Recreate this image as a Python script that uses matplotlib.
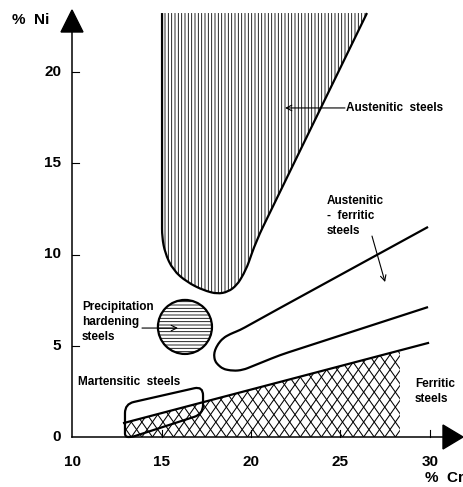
import matplotlib
matplotlib.use("Agg")
import matplotlib.pyplot as plt
import numpy as np
from matplotlib.patches import Polygon, Ellipse, PathPatch
from matplotlib.path import Path
from matplotlib.collections import LineCollection

plt.rcParams["font.family"] = ["Liberation Sans", "DejaVu Sans"]
plt.rcParams["hatch.linewidth"] = 0.6

# axis ticks (% Cr, % Ni)
CR_TICKS = [10, 15, 20, 25, 30]
NI_TICKS = [0, 5, 10, 15, 20]

# austenitic field (open at the top)
AUST_CR = [15.03, 15.03, 15.20, 15.64, 16.42, 17.32, 18.10, 18.72, 19.22, 19.72, 20.31, 26.48]
AUST_NI = [23.23, 10.96, 10.08, 9.15, 8.49, 8.05, 7.84, 7.95, 8.33, 9.15, 10.79, 23.23]

# austenitic-ferritic (duplex) U-shaped band
DUPLEX_CR = [29.89, 21.62, 19.39, 18.83, 18.44, 18.16, 17.99, 17.93, 17.99, 18.16,
             18.44, 18.99, 19.55, 21.62, 29.89]
DUPLEX_NI = [11.51, 7.07, 5.86, 5.64, 5.42, 5.10, 4.77, 4.49, 4.16, 3.95,
             3.73, 3.62, 3.67, 4.49, 7.12]

# ferritic boundary line and extent of the cross-hatched field
FERR_CR = [12.91, 29.89]
FERR_NI = [0.77, 5.15]
FERR_HATCH_END = 28.32

# martensitic rounded box
MART_CR = [12.96, 12.96, 17.32, 17.32, 13.35]
MART_NI = [0.00, 1.81, 2.78, 1.26, 0.00]

# precipitation hardening circle
PH_CENTER = (16.31, 6.03)
PH_RADIUS = (1.51, 1.48)

# pixel mapping of the original drawing
PX_CR, PX_NI = 17.9, 18.25
X0_PX, Y0_PX = 72, 437
W, H = 463, 487


def smooth_path(xs, ys, r, closed=False):
    # rounds every corner with a quadratic curve, straight parts stay straight
    pts = np.column_stack([xs, ys])
    n = len(pts)
    verts, codes = [], []
    idx = range(n) if closed else range(1, n - 1)
    if not closed:
        verts.append(pts[0])
        codes.append(Path.MOVETO)
    for j, i in enumerate(idx):
        p0, p1, p2 = pts[i - 1], pts[i], pts[(i + 1) % n]
        e0, e2 = p0 - p1, p2 - p1
        l0, l2 = np.linalg.norm(e0), np.linalg.norm(e2)
        rr = min(r, 0.5 * l0, 0.5 * l2)
        a = p1 + e0 / l0 * rr
        b = p1 + e2 / l2 * rr
        verts += [a, p1, b]
        codes += [Path.MOVETO if (closed and j == 0) else Path.LINETO,
                  Path.CURVE3, Path.CURVE3]
    if closed:
        verts.append(verts[0])
        codes.append(Path.CLOSEPOLY)
    else:
        verts.append(pts[-1])
        codes.append(Path.LINETO)
    return Path(verts, codes)


fig = plt.figure(figsize=(W / 100, H / 100), dpi=100)
ax = fig.add_axes([0, 0, 1, 1])
ax.set_xlim(10 - X0_PX / PX_CR, 10 + (W - X0_PX) / PX_CR)
ax.set_ylim((Y0_PX - H) / PX_NI, Y0_PX / PX_NI)
ax.axis("off")

lw = 1.6

# austenitic: vertical hatching
aus_path = smooth_path(AUST_CR, AUST_NI, 0.8)
aus_fill = Path(np.vstack([aus_path.vertices, aus_path.vertices[:1]]),
                list(aus_path.codes) + [Path.CLOSEPOLY])
ax.add_patch(PathPatch(aus_fill, facecolor="none", edgecolor="black", linewidth=0,
                       hatch="|||||"))
ax.add_patch(PathPatch(aus_path, facecolor="none", edgecolor="black", linewidth=lw))

# duplex band
ax.add_patch(PathPatch(smooth_path(DUPLEX_CR, DUPLEX_NI, 0.5), facecolor="none",
                       edgecolor="black", linewidth=lw))

# ferritic: cross hatching clipped to the field
slope = (FERR_NI[1] - FERR_NI[0]) / (FERR_CR[1] - FERR_CR[0])
top_end = FERR_NI[0] + slope * (FERR_HATCH_END - FERR_CR[0])
ferr_poly = Polygon([(FERR_CR[0], 0), (FERR_CR[0], FERR_NI[0]),
                     (FERR_HATCH_END, top_end), (FERR_HATCH_END, 0)],
                    closed=True, facecolor="none", edgecolor="none")
ax.add_patch(ferr_poly)
step, s = 0.59, 1.39
segs = []
for c in np.arange(FERR_CR[0] - 6 / s, FERR_HATCH_END + 6 / s, step):
    segs.append([(c, 0), (c + 6 / s, 6)])
    segs.append([(c, 0), (c - 6 / s, 6)])
lc = LineCollection(segs, colors="black", linewidths=0.75)
ax.add_collection(lc)
lc.set_clip_path(ferr_poly)
ax.plot(FERR_CR, FERR_NI, color="black", lw=lw)

# martensitic box
ax.add_patch(PathPatch(smooth_path(MART_CR, MART_NI, 0.5, closed=True), facecolor="none",
                       edgecolor="black", linewidth=lw))

# precipitation hardening circle
ax.add_patch(Ellipse(PH_CENTER, 2 * PH_RADIUS[0], 2 * PH_RADIUS[1], facecolor="white",
                     edgecolor="black", linewidth=0, hatch="-----"))
ax.add_patch(Ellipse(PH_CENTER, 2 * PH_RADIUS[0], 2 * PH_RADIUS[1], facecolor="none",
                     edgecolor="black", linewidth=lw))

# axes with arrow heads
ni_top = (Y0_PX - 32) / PX_NI
cr_end = 10 + (443 - X0_PX) / PX_CR
ax.plot([10, 10], [0, ni_top], color="black", lw=1.1)
ax.plot([10, cr_end], [0, 0], color="black", lw=1.1)
ax.add_patch(Polygon([(10 - 11 / PX_CR, ni_top), (10 + 11 / PX_CR, ni_top),
                      (10, (Y0_PX - 10) / PX_NI)], closed=True, color="black"))
ax.add_patch(Polygon([(cr_end, 12 / PX_NI), (cr_end, -12 / PX_NI),
                      (10 + (W - X0_PX) / PX_CR, 0)], closed=True, color="black"))

# ticks
tfs = 11
for t in CR_TICKS[1:]:
    ax.plot([t, t], [0, 7 / PX_NI], color="black", lw=0.8)
    ax.text(t, -1.37, str(t), ha="center", va="center", fontsize=tfs, fontweight="bold")
ax.text(10, -1.37, "10", ha="center", va="center", fontsize=tfs, fontweight="bold")
for t in NI_TICKS:
    if t > 0:
        ax.plot([10, 10 + 7 / PX_CR], [t, t], color="black", lw=0.8)
    ax.text(9.4, t, str(t), ha="right", va="center", fontsize=tfs, fontweight="bold")

ax.text(6.65, 22.85, "%  Ni", ha="left", va="center", fontsize=tfs, fontweight="bold")
ax.text(29.72, -2.25, "%  Cr", ha="left", va="center", fontsize=tfs, fontweight="bold")

# labels
fs = 8.5
lsp = 1.3
ax.text(25.31, 18.03, "Austenitic  steels", ha="left", va="center", fontsize=fs, fontweight="bold")
ax.annotate("", xy=(21.9, 18.03), xytext=(25.25, 18.03),
            arrowprops=dict(arrowstyle="->", lw=0.8, color="black", shrinkA=0, shrinkB=0))

ax.text(24.25, 12.1, "Austenitic\n-  ferritic\nsteels", ha="left", va="center",
        fontsize=fs, fontweight="bold", linespacing=lsp)
ax.annotate("", xy=(27.49, 8.49), xytext=(26.76, 11.01),
            arrowprops=dict(arrowstyle="->", lw=0.8, color="black", shrinkA=0, shrinkB=0))

ax.text(29.16, 2.5, "Ferritic\nsteels", ha="left", va="center", fontsize=fs,
        fontweight="bold", linespacing=lsp)
ax.text(10.34, 3.01, "Martensitic  steels", ha="left", va="center", fontsize=fs, fontweight="bold")

ax.text(10.56, 6.3, "Precipitation\nhardening\nsteels", ha="left", va="center",
        fontsize=fs, fontweight="bold", linespacing=lsp)
ax.annotate("", xy=(15.92, 5.97), xytext=(13.91, 5.97),
            arrowprops=dict(arrowstyle="->", lw=0.8, color="black", shrinkA=0, shrinkB=0))

fig.savefig("out.png", dpi=100)
